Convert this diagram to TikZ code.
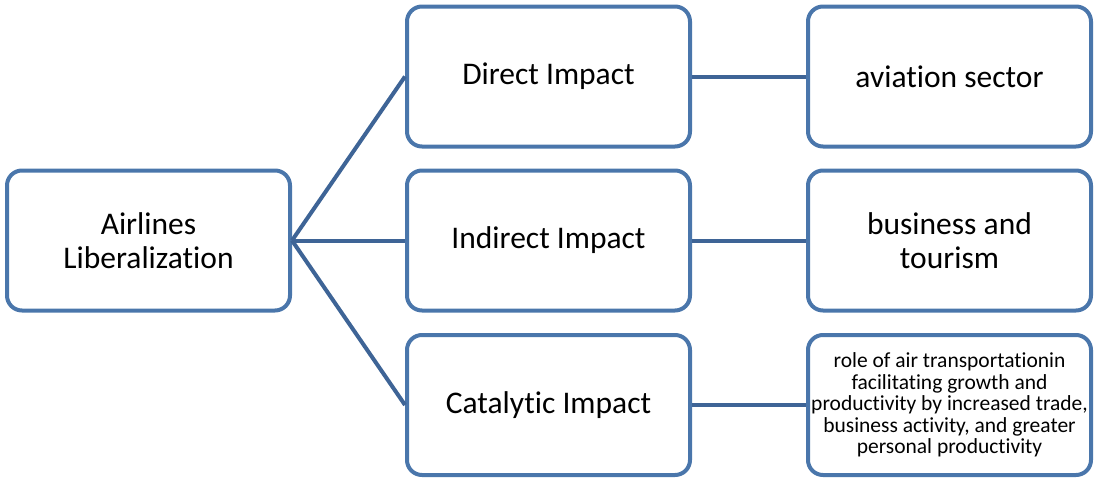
\documentclass[tikz,border=0pt]{standalone}
\usepackage{fontspec}
\setmainfont{Carlito}[Ligatures=NoCommon]
\definecolor{boxblue}{HTML}{4A76AB}
\definecolor{lineblue}{HTML}{3E6496}

\begin{document}
\begin{tikzpicture}[x=1pt,y=-1pt,
    impactbox/.style={draw=boxblue, line width=4pt, rounded corners=15pt,
        minimum width=283pt, minimum height=140pt, align=center,
        font=\fontsize{31.5}{34}\selectfont, inner sep=2pt},
    smalltext/.style={font=\fontsize{21.5}{21.5}\selectfont},
    link/.style={draw=lineblue, line width=4pt}]
    \useasboundingbox (0,0) rectangle (1096,479);
    \node[impactbox] (airlines) at (148.5,240.5) {Airlines\\Liberalization};
    \node[impactbox] (direct) at (548.5,76.5) {Direct Impact};
    \node[impactbox] (indirect) at (548.5,240.5) {Indirect Impact};
    \node[impactbox] (catalytic) at (548.5,405) {Catalytic Impact};
    \node[impactbox] (aviation) at (949.5,76.5) {aviation sector};
    \node[impactbox] (business) at (949.5,240.5) {business and\\tourism};
    \node[impactbox, smalltext] (role) at (949.5,405) {role of air transportationin\\facilitating growth and\\productivity by increased trade,\\business activity, and greater\\personal productivity};
    \draw[link] (airlines.east) -- (direct.west);
    \draw[link] (airlines.east) -- (indirect.west);
    \draw[link] (airlines.east) -- (catalytic.west);
    \draw[link] (direct.east) -- (aviation.west);
    \draw[link] (indirect.east) -- (business.west);
    \draw[link] (catalytic.east) -- (role.west);
\end{tikzpicture}
\end{document}
